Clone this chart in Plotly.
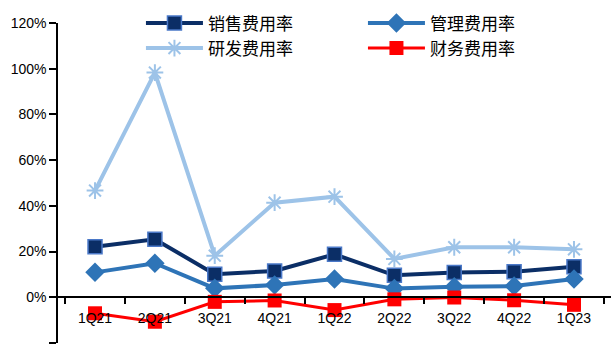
import plotly.graph_objects as go

quarters = ["1Q21", "2Q21", "3Q21", "4Q21", "1Q22", "2Q22", "3Q22", "4Q22", "1Q23"]
selling = [22.1, 25.4, 10.1, 11.5, 18.8, 9.6, 10.8, 11.2, 13.4]
admin = [10.9, 14.9, 3.9, 5.4, 8.0, 3.8, 4.6, 4.9, 8.0]
rnd = [46.7, 98.3, 18.2, 41.4, 44.0, 16.8, 21.9, 21.9, 21.0]
finance = [-7.0, -10.7, -2.0, -1.4, -5.6, -0.9, -0.1, -1.3, -3.3]
y_ticks = [-20, 0, 20, 40, 60, 80, 100, 120]

fig = go.Figure()

fig.add_trace(go.Scatter(
    x=quarters, y=selling, name="销售费用率", mode="lines+markers",
    line=dict(color="#0B2E66", width=4),
    marker=dict(symbol="square", size=14, color="#0B2E66",
                line=dict(color="#4A78C8", width=1.5)),
))
fig.add_trace(go.Scatter(
    x=quarters, y=admin, name="管理费用率", mode="lines+markers",
    line=dict(color="#2E74B7", width=4),
    marker=dict(symbol="diamond", size=15, color="#2E74B7"),
))
fig.add_trace(go.Scatter(
    x=quarters, y=rnd, name="研发费用率", mode="lines+markers",
    line=dict(color="#9DC3E8", width=4),
    marker=dict(symbol="asterisk-open", size=14, color="#9DC3E8",
                line=dict(color="#9DC3E8", width=2)),
))
fig.add_trace(go.Scatter(
    x=quarters, y=finance, name="财务费用率", mode="lines+markers",
    line=dict(color="#FF0000", width=3),
    marker=dict(symbol="square", size=14, color="#FF0000"),
))

fig.update_layout(
    width=612, height=348,
    margin=dict(l=58, r=1, t=23, b=5),
    paper_bgcolor="white", plot_bgcolor="white",
    font=dict(family="Liberation Sans, Arial, sans-serif", size=14, color="#000000"),
    showlegend=True,
    legend=dict(
        orientation="h", x=0.15, xanchor="left", y=1.055, yanchor="top",
        bgcolor="rgba(0,0,0,0)", itemwidth=57, entrywidth=150, entrywidthmode="pixels",
        font=dict(family="Noto Sans CJK SC", size=17, color="#000000"),
        tracegroupgap=0, traceorder="normal",
    ),
)

fig.update_xaxes(
    type="category", anchor="free", position=20 / 140,
    showline=True, linecolor="#000000", linewidth=1.5,
    ticks="outside", ticklen=6, tickcolor="#000000", tickwidth=1.5,
    tickson="boundaries", showgrid=False, zeroline=False,
    ticklabelstandoff=8,
    tickfont=dict(family="Liberation Sans, Arial, sans-serif", size=14),
)
fig.update_yaxes(
    range=[-20, 120], tickvals=y_ticks, ticktext=[f"{v}%".replace("-", "−") for v in y_ticks],
    showline=True, linecolor="#000000", linewidth=1.5,
    ticks="outside", ticklen=7, tickcolor="#000000", tickwidth=1.5,
    showgrid=False, zeroline=False,
    tickfont=dict(family="Liberation Sans, Arial, sans-serif", size=14),
)

fig.write_html("out.html")
